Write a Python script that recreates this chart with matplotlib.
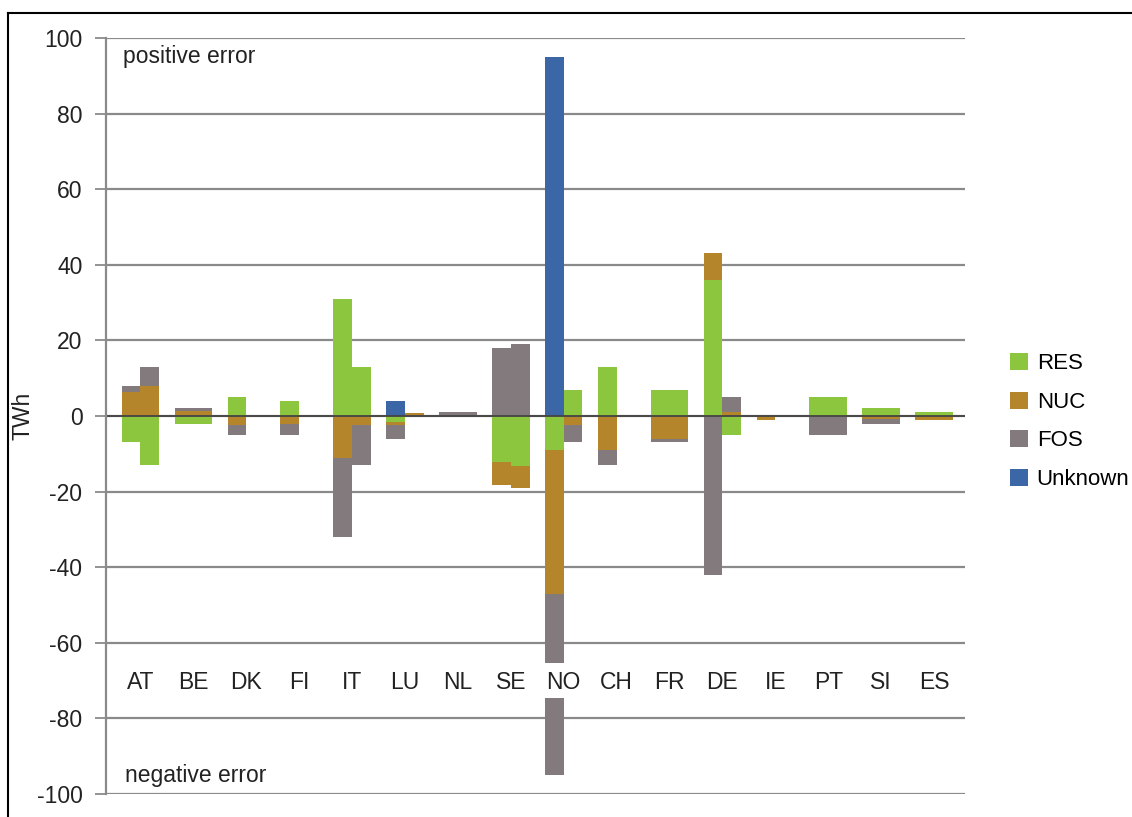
import numpy as np
import matplotlib
matplotlib.use("Agg")
import matplotlib.pyplot as plt
from matplotlib.patches import Patch
from matplotlib.lines import Line2D

plt.rcParams['font.family'] = ['Liberation Sans', 'DejaVu Sans']
plt.rcParams['axes.unicode_minus'] = False

countries = ['AT', 'BE', 'DK', 'FI', 'IT', 'LU', 'NL', 'SE', 'NO', 'CH',
             'FR', 'DE', 'IE', 'PT', 'SI', 'ES']

# error in TWh, first bar of each country
res_1 = [-7, -2, 5, 4, 31, -1.5, 0, -12.3, -9, 13, 7, 36, 0, 5, 2, 1]
nuc_1 = [6.4, 1.2, -2.4, -2, -11, -1, 0, -6, -38, -9, -6.2, 7, -1, 0, -0.7, -1]
fos_1 = [1.6, 0.8, -2.6, -3, -21, -3.5, 1, 18, -48, -4, -0.8, -42, 0, -5, -1.3, 0]
unk_1 = [0, 0, 0, 0, 0, 4, 0, 0, 95, 0, 0, 0, 0, 0, 0, 0]

# second bar of each country
res_2 = [-13, -2, 0, 0, 13, 0, 0, -13.2, 7, 0, 7, -5, 0, 5, 2, 1]
nuc_2 = [8, 1.2, 0, 0, -2.4, 0.9, 0, -5.9, -2.4, 0, -6.2, 1, 0, 0, -0.7, -1]
fos_2 = [5, 0.8, 0, 0, -10.6, 0, 1, 19, -4.6, 0, -0.8, 4, 0, -5, -1.3, 0]
unk_2 = [0] * 16

names = ['RES', 'NUC', 'FOS', 'Unknown']
colors = ['#8cc63e', '#b5852b', '#827a7c', '#3b67a6']

fs = 16.5

fig = plt.figure(figsize=(11.32, 8.17), dpi=100)
ax = fig.add_axes([106/1132, 1-794/817, (965-106)/1132, (794-38)/817])

x = np.arange(len(countries))
w = 0.354


def stack(xpos, series):
    pos = np.zeros(len(xpos))
    neg = np.zeros(len(xpos))
    for vals, c in zip(series, colors):
        v = np.array(vals, dtype=float)
        p = np.where(v > 0, v, 0)
        n = np.where(v < 0, v, 0)
        ax.bar(xpos, p, w, bottom=pos, color=c, zorder=3, linewidth=0)
        ax.bar(xpos, n, w, bottom=neg, color=c, zorder=3, linewidth=0)
        pos += p
        neg += n


stack(x - w/2, [res_1, nuc_1, fos_1, unk_1])
stack(x + w/2, [res_2, nuc_2, fos_2, unk_2])

ax.set_xlim(-0.652, 15.586)
ax.set_ylim(-100, 100)
ax.set_yticks(np.arange(-100, 101, 20))
ax.yaxis.grid(True, color='#8a8a8a', linewidth=1.6, zorder=1)
ax.axhline(0, color='#444444', linewidth=1.3, zorder=4)
for s in ['top', 'right', 'bottom']:
    ax.spines[s].set_visible(False)
ax.spines['left'].set_color('#8a8a8a')
ax.spines['left'].set_linewidth(1.6)
ax.spines['left'].set_zorder(7)
ax.set_xticks([])
ax.tick_params(axis='y', length=8, width=1.3, color='#8a8a8a', pad=9,
               labelsize=fs, labelcolor='#222222')
ax.set_ylabel('TWh', fontsize=fs, color='#222222')
ax.yaxis.set_label_coords(-0.083, 0.5)

# country labels sit in a white row across the bars
ax.axhspan(-74.6, -65.3, color='white', zorder=5, linewidth=0)
for i, c in enumerate(countries):
    ax.text(i, -70.4, c, ha='center', va='center', fontsize=fs,
            color='#222222', zorder=6)

ax.text(-0.34, 95, 'positive error', fontsize=fs, color='#222222',
        va='center', ha='left')
ax.text(-0.29, -95, 'negative error', fontsize=fs, color='#222222',
        va='center', ha='left')

handles = [Patch(facecolor=c, edgecolor='none') for c in colors]
fig.legend(handles, names, loc='upper left',
           bbox_to_anchor=(1010/1132, 1-353/817), frameon=False,
           fontsize=16, handlelength=0.8, handleheight=0.8,
           handletextpad=0.4, labelspacing=0.78, borderpad=0,
           borderaxespad=0)

fig.add_artist(Line2D([8/1132, 8/1132], [0, 1-13/817], color='black',
                      linewidth=1.5, transform=fig.transFigure))
fig.add_artist(Line2D([8/1132, 1], [1-13/817, 1-13/817], color='black',
                      linewidth=1.5, transform=fig.transFigure))

fig.savefig('out.png', dpi=100)
